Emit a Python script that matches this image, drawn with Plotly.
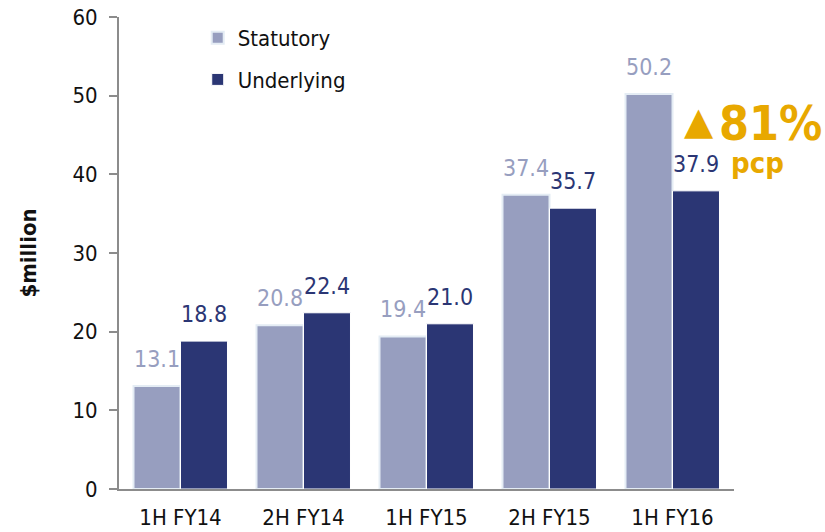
import plotly.graph_objects as go

categories = ["1H FY14", "2H FY14", "1H FY15", "2H FY15", "1H FY16"]
statutory = [13.1, 20.8, 19.4, 37.4, 50.2]
underlying = [18.8, 22.4, 21.0, 35.7, 37.9]
y_ticks = [0, 10, 20, 30, 40, 50, 60]
growth_text = "81%"
growth_sub = "pcp"

STAT_C = "#979EBF"
UND_C = "#2B3674"
GOLD = "#E8A800"
FONT = "DejaVu Sans Condensed, Open Sans, sans-serif"

fig = go.Figure()
fig.add_trace(go.Bar(
    x=categories, y=statutory, name="Statutory", legendgroup="a",
    marker=dict(color=STAT_C, line=dict(color="#E4ECF4", width=2)),
))
fig.add_trace(go.Bar(
    x=categories, y=underlying, name="Underlying", legendgroup="b",
    marker=dict(color=UND_C, line=dict(color="#FFFFFF", width=1)),
))

# data labels
for series, col, dx in ((statutory, STAT_C, -23.5), (underlying, UND_C, 23.5)):
    for c, v in zip(categories, series):
        fig.add_annotation(
            x=c, y=v, xref="x", yref="y", text=f"{v:.1f}", showarrow=False,
            xanchor="center", yanchor="bottom", xshift=dx, yshift=12,
            font=dict(color=col, size=23, family=FONT),
        )

fig.update_layout(
    width=825, height=532,
    margin=dict(l=119, r=91, t=17, b=43, autoexpand=False),
    plot_bgcolor="white", paper_bgcolor="white",
    font=dict(family=FONT, size=22, color="#111111"),
    barmode="group", bargap=0.236, bargroupgap=0,
    showlegend=True,
    legend=dict(x=0.128, y=1.0, xanchor="left", yanchor="top",
                font=dict(size=22, color="#111111"),
                tracegroupgap=10, bgcolor="rgba(0,0,0,0)"),
)
fig.update_xaxes(
    showline=True, linecolor="#8C8C8C", linewidth=2,
    ticks="", showgrid=False, tickfont=dict(size=22),
    ticklabelstandoff=8, automargin=False,
)
fig.update_yaxes(
    range=[0, 60], tickvals=y_ticks, showline=True, linecolor="#8C8C8C",
    linewidth=2, ticks="outside", ticklen=8, tickcolor="#8C8C8C", tickwidth=2,
    showgrid=False, zeroline=False, tickfont=dict(size=22),
    ticklabelstandoff=7, automargin=True,
    title=dict(text="<b>$million</b>", font=dict(size=22), standoff=30),
)

fig.add_annotation(
    xref="paper", yref="y", x=0.9154, y=46.8, xanchor="left", yanchor="middle",
    text="▲", showarrow=False, font=dict(color=GOLD, size=38, family="DejaVu Sans"),
)
fig.add_annotation(
    xref="paper", yref="y", x=0.9724, y=46.56, xanchor="left", yanchor="middle",
    text=f"<b>{growth_text}</b>", showarrow=False,
    font=dict(color=GOLD, size=48, family=FONT),
)
fig.add_annotation(
    xref="paper", yref="y", x=0.992, y=41.5, xanchor="left", yanchor="middle",
    text=f"<b>{growth_sub}</b>", showarrow=False,
    font=dict(color=GOLD, size=29, family=FONT),
)

fig.write_html(
    "out.html",
    config={"displayModeBar": False},
    post_script="document.body.style.margin='0';document.body.style.overflow='hidden';",
)
